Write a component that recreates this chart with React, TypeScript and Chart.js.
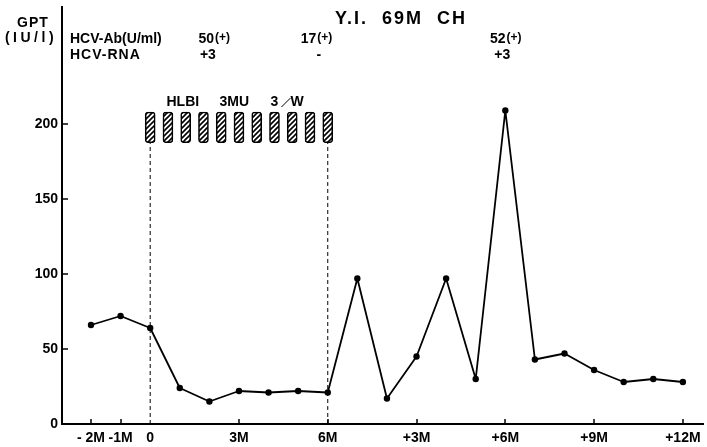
import React, { useEffect, useRef } from 'react';
import { Chart, registerables } from 'chart.js';

Chart.register(...registerables);

// Time axis in months (0..6 treatment, 7..18 = +1M..+12M after)
const months = [-2, -1, 0, 1, 2, 3, 4, 5, 6, 7, 8, 9, 10, 11, 12, 13, 14, 15, 16, 17, 18];
const gptValues = [66, 72, 64, 24, 15, 22, 21, 22, 21, 97, 17, 45, 97, 30, 209, 43, 47, 36, 28, 30, 28];

const xTickValues = [-2, -1, 0, 3, 6, 9, 12, 15, 18];
const xTickLabels = ['- 2M', '-1M', '0', '3M', '6M', '+3M', '+6M', '+9M', '+12M'];
const yTickValues = [0, 50, 100, 150, 200];

// Treatment (HLBI 3MU 3/W) injection markers
const treatmentMonths = [0, 0.6, 1.2, 1.8, 2.4, 3.0, 3.6, 4.2, 4.8, 5.4, 6.0];
const treatmentLow = 187.5;
const treatmentHigh = 208;
const treatmentBounds = [0, 6];

// Annotations
const hcvAbMonths = [2.15, 5.6, 12.0];
const hcvAbValues = ['50', '17', '52'];
const hcvAbSigns = ['(+)', '(+)', '(+)'];
const hcvRnaMonths = [1.95, 5.7, 11.9];
const hcvRnaValues = ['+3', '-', '+3'];

const FONT = '"Liberation Sans", Arial, Helvetica, sans-serif';

function makeHatch(): CanvasPattern | string {
  const c = document.createElement('canvas');
  c.width = 5;
  c.height = 5;
  const g = c.getContext('2d');
  if (!g) return '#fff';
  g.fillStyle = '#fff';
  g.fillRect(0, 0, 5, 5);
  g.strokeStyle = '#000';
  g.lineWidth = 1.6;
  g.beginPath();
  g.moveTo(-1, 6);
  g.lineTo(6, -1);
  g.moveTo(-1, 1);
  g.lineTo(1, -1);
  g.moveTo(4, 6);
  g.lineTo(6, 4);
  g.stroke();
  const p = g.createPattern(c, 'repeat');
  return p || '#fff';
}

const overlayPlugin = {
  id: 'overlay',
  afterDraw(chart: any) {
    const { ctx, chartArea, scales } = chart;
    const xs = scales.x;
    const ys = scales.y;
    ctx.save();
    ctx.strokeStyle = '#000';
    ctx.lineWidth = 1.5;
    // inward tick marks
    xTickValues.forEach((v) => {
      if (v === 0) return;
      const px = Math.round(xs.getPixelForValue(v));
      ctx.beginPath();
      ctx.moveTo(px, chartArea.bottom);
      ctx.lineTo(px, chartArea.bottom - 5);
      ctx.stroke();
    });
    yTickValues.forEach((v) => {
      if (v === 0) return;
      const py = Math.round(ys.getPixelForValue(v));
      ctx.beginPath();
      ctx.moveTo(chartArea.left, py);
      ctx.lineTo(chartArea.left + 6, py);
      ctx.stroke();
    });

    ctx.fillStyle = '#000';
    ctx.textBaseline = 'middle';
    // Y axis title
    ctx.textAlign = 'center';
    ctx.font = `bold 14px ${FONT}`;
    (ctx as any).letterSpacing = '1px';
    ctx.fillText('GPT', 33, 23);
    (ctx as any).letterSpacing = '3.5px';
    ctx.fillText('(IU/l)', 31, 38);

    // Chart title
    ctx.font = `bold 18px ${FONT}`;
    (ctx as any).letterSpacing = '2px';
    ctx.fillText('Y.I.  69M  CH', 401, 19);
    (ctx as any).letterSpacing = '0px';

    // HCV rows
    ctx.textAlign = 'left';
    ctx.font = `bold 14px ${FONT}`;
    ctx.fillText('HCV-Ab(U/ml)', 70, 39);
    (ctx as any).letterSpacing = '1px';
    ctx.fillText('HCV-RNA', 70, 55);
    (ctx as any).letterSpacing = '0px';

    hcvAbMonths.forEach((m, i) => {
      const cx = xs.getPixelForValue(m);
      ctx.font = `bold 14px ${FONT}`;
      const w1 = ctx.measureText(hcvAbValues[i]).width;
      ctx.font = `bold 12px ${FONT}`;
      const w2 = ctx.measureText(hcvAbSigns[i]).width;
      const x0 = cx - (w1 + w2) / 2;
      ctx.textAlign = 'left';
      ctx.font = `bold 14px ${FONT}`;
      ctx.fillText(hcvAbValues[i], x0, 39);
      ctx.font = `bold 12px ${FONT}`;
      ctx.fillText(hcvAbSigns[i], x0 + w1 + 1, 38);
    });
    ctx.textAlign = 'center';
    ctx.font = `bold 14px ${FONT}`;
    hcvRnaMonths.forEach((m, i) => {
      ctx.fillText(hcvRnaValues[i], xs.getPixelForValue(m), 55);
    });

    // treatment label
    ctx.textAlign = 'left';
    ctx.font = `bold 14px ${FONT}`;
    const lx = xs.getPixelForValue(0.55);
    ctx.fillText('HLBI', lx, 102);
    ctx.fillText('3MU', lx + 53, 102);
    ctx.fillText('3', lx + 104, 102);
    ctx.lineWidth = 1;
    ctx.beginPath();
    ctx.moveTo(lx + 115, 107);
    ctx.lineTo(lx + 124, 98);
    ctx.stroke();
    ctx.fillText('W', lx + 124, 102);
    ctx.restore();
  },
};

export default function App() {
  const ref = useRef<HTMLCanvasElement | null>(null);
  useEffect(() => {
    if (!ref.current) return;
    const hatch = makeHatch();
    const chart = new Chart(ref.current, {
      type: 'line',
      data: {
        datasets: [
          {
            type: 'bar',
            data: treatmentMonths.map((m) => ({ x: m, y: [treatmentLow, treatmentHigh] })) as any,
            backgroundColor: hatch as any,
            borderColor: '#000',
            borderWidth: 1.6,
            borderRadius: 3,
            borderSkipped: false,
            barThickness: 10,
            order: 1,
          } as any,
          ...treatmentBounds.map((m) => ({
            type: 'line' as const,
            data: [
              { x: m, y: 0 },
              { x: m, y: treatmentLow },
            ],
            borderColor: '#000',
            borderWidth: 1,
            borderDash: [4, 3],
            pointRadius: 0,
            order: 2,
          })),
          {
            type: 'line',
            data: months.map((m, i) => ({ x: m, y: gptValues[i] })),
            borderColor: '#000',
            backgroundColor: '#000',
            borderWidth: 1.8,
            borderJoinStyle: 'round',
            pointRadius: 3.2,
            pointBackgroundColor: '#000',
            pointBorderWidth: 0,
            tension: 0,
            order: 0,
          },
        ],
      },
      options: {
        animation: false,
        responsive: false,
        devicePixelRatio: 1,
        layout: { padding: { top: 7, left: 0, right: 0, bottom: 0 } },
        plugins: { legend: { display: false }, tooltip: { enabled: false } },
        scales: {
          x: {
            type: 'linear',
            min: -2.98,
            max: 18.68,
            offset: false,
            grid: { display: false, drawTicks: false },
            border: { display: true, color: '#000', width: 2 },
            afterFit: (s: any) => {
              s.height = 23;
            },
            afterBuildTicks: (s: any) => {
              s.ticks = xTickValues.map((v) => ({ value: v }));
            },
            ticks: {
              autoSkip: false,
              maxRotation: 0,
              padding: 6,
              color: '#000',
              font: { family: FONT, size: 14, weight: 'bold' },
              callback: (v: any) => {
                const i = xTickValues.indexOf(Number(v));
                return i >= 0 ? xTickLabels[i] : '';
              },
            },
          },
          y: {
            type: 'linear',
            min: 0,
            max: 278,
            grid: { display: false, drawTicks: false },
            border: { display: true, color: '#000', width: 2 },
            afterFit: (s: any) => {
              s.width = 62;
              s.paddingTop = 0;
              s.paddingBottom = 0;
            },
            afterBuildTicks: (s: any) => {
              s.ticks = yTickValues.map((v) => ({ value: v }));
            },
            ticks: {
              padding: 4,
              color: '#000',
              font: { family: FONT, size: 14, weight: 'bold' },
            },
          },
        },
      },
      plugins: [overlayPlugin],
    } as any);
    return () => chart.destroy();
  }, []);
  return (
    <div style={{ position: 'fixed', left: 0, top: 0, width: 707, height: 447, background: '#fff' }}>
      <canvas ref={ref} width={707} height={447} style={{ width: 707, height: 447, display: 'block' }} />
    </div>
  );
}
